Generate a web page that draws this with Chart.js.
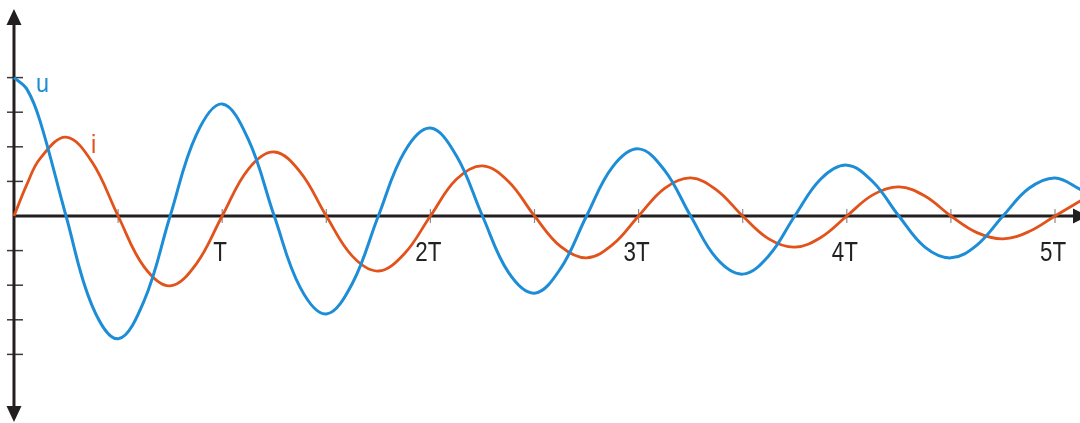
<!DOCTYPE html>
<html>
<head>
<meta charset="utf-8">
<script src="https://cdn.jsdelivr.net/npm/chart.js@4.4.1/dist/chart.umd.min.js"></script>
<style>
  html, body { margin: 0; padding: 0; background: #ffffff; }
  #wrap { width: 1080px; height: 423px; position: relative; }
</style>
</head>
<body>
<div id="wrap"><canvas id="osc-chart"></canvas></div>
<script>
// --- Data (time in periods T, values in axis units) ---
const timeValues = [
    0, 0.0625, 0.125, 0.25, 0.375, 0.5, 0.625, 0.75, 0.875,
    1, 1.125, 1.25, 1.375, 1.5, 1.625, 1.75, 1.875,
    2, 2.125, 2.25, 2.375, 2.5, 2.625, 2.75, 2.875,
    3, 3.125, 3.25, 3.375, 3.5, 3.625, 3.75, 3.875,
    4, 4.125, 4.25, 4.375, 4.5, 4.625, 4.75, 4.875,
    5, 5.125
];
const uValues = [
    4.00, 3.66, 2.75, 0, -2.59, -3.55, -2.45, 0, 2.34,
    3.24, 2.22, 0, -2.07, -2.83, -1.95, 0, 1.85,
    2.54, 1.74, 0, -1.63, -2.23, -1.52, 0, 1.42,
    1.94, 1.32, 0, -1.23, -1.68, -1.15, 0, 1.07,
    1.47, 0.99, 0, -0.90, -1.21, -0.84, 0, 0.80,
    1.10, 0.76
];
const iValues = [
    0, 0.92, 1.66, 2.28, 1.56, 0, -1.47, -2.02, -1.39,
    0, 1.35, 1.85, 1.27, 0, -1.16, -1.59, -1.09,
    0, 1.06, 1.45, 1.00, 0, -0.88, -1.21, -0.83,
    0, 0.80, 1.10, 0.75, 0, -0.66, -0.90, -0.62,
    0, 0.61, 0.84, 0.58, 0, -0.48, -0.66, -0.45,
    0, 0.45
];
const halfPeriodTicks = [0.5, 1, 1.5, 2, 2.5, 3, 3.5, 4, 4.5, 5];
const periodLabels = ['T', '2T', '3T', '4T', '5T'];
const periodLabelValues = [1, 2, 3, 4, 5];
const yTickValues = [-4, -3, -2, -1, 1, 2, 3, 4];

const BLUE = '#1c8dd6';
const ORANGE = '#e2521b';
const AXIS = '#231f20';

// --- Axes drawn by hand (arrows, ticks, labels) ---
const axesPlugin = {
    id: 'handAxes',
    beforeDatasetsDraw(chart) {
        const { ctx, scales: { x, y } } = chart;
        const x0 = x.getPixelForValue(0);
        const y0 = y.getPixelForValue(0);
        const right = chart.width;
        ctx.save();

        // small grey ticks on the time axis
        ctx.strokeStyle = '#8c8c8c';
        ctx.lineWidth = 1.2;
        halfPeriodTicks.forEach(v => {
            const px = x.getPixelForValue(v);
            ctx.beginPath();
            ctx.moveTo(px, y0 - 7);
            ctx.lineTo(px, y0 + 7);
            ctx.stroke();
        });

        // ticks on the vertical axis
        ctx.strokeStyle = '#3a3a3a';
        ctx.lineWidth = 1.5;
        yTickValues.forEach(v => {
            const py = y.getPixelForValue(v);
            ctx.beginPath();
            ctx.moveTo(x0 - 7, py);
            ctx.lineTo(x0 + 9, py);
            ctx.stroke();
        });

        // axis lines
        ctx.strokeStyle = AXIS;
        ctx.fillStyle = AXIS;
        ctx.lineWidth = 3;
        ctx.beginPath();
        ctx.moveTo(x0, 20);
        ctx.lineTo(x0, 410);
        ctx.moveTo(x0, y0);
        ctx.lineTo(right - 6, y0);
        ctx.stroke();

        // arrow heads
        ctx.beginPath();
        ctx.moveTo(x0, 9);
        ctx.lineTo(x0 - 7.5, 25);
        ctx.lineTo(x0 + 7.5, 25);
        ctx.closePath();
        ctx.fill();
        ctx.beginPath();
        ctx.moveTo(x0, 422);
        ctx.lineTo(x0 - 7.5, 406);
        ctx.lineTo(x0 + 7.5, 406);
        ctx.closePath();
        ctx.fill();
        ctx.beginPath();
        ctx.moveTo(right + 8, y0);
        ctx.lineTo(right - 7, y0 - 7.5);
        ctx.lineTo(right - 7, y0 + 7.5);
        ctx.closePath();
        ctx.fill();

        // period labels
        ctx.fillStyle = '#222222';
        ctx.font = '28px "Liberation Sans", Arial, sans-serif';
        ctx.textAlign = 'center';
        ctx.textBaseline = 'alphabetic';
        periodLabels.forEach((lbl, k) => {
            const px = x.getPixelForValue(periodLabelValues[k]) - 2;
            ctx.save();
            ctx.translate(px, y0 + 45);
            ctx.scale(0.8, 1);
            ctx.fillText(lbl, 0, 0);
            ctx.restore();
        });

        // curve names
        ctx.font = '26px "Liberation Sans", Arial, sans-serif';
        ctx.textAlign = 'left';
        ctx.save();
        ctx.fillStyle = BLUE;
        ctx.translate(x.getPixelForValue(0.106), y.getPixelForValue(3.58));
        ctx.scale(0.9, 1);
        ctx.fillText('u', 0, 0);
        ctx.restore();
        ctx.save();
        ctx.fillStyle = ORANGE;
        ctx.translate(x.getPixelForValue(0.37), y.getPixelForValue(1.82));
        ctx.scale(0.9, 1);
        ctx.fillText('i', 0, 0);
        ctx.restore();

        ctx.restore();
    }
};

const ctx = document.getElementById('osc-chart').getContext('2d');
new Chart(ctx, {
    type: 'line',
    data: {
        datasets: [
            {
                label: 'u',
                data: timeValues.map((t, k) => ({ x: t, y: uValues[k] })),
                borderColor: BLUE,
                borderWidth: 3,
                pointRadius: 0,
                tension: 0.38,
                fill: false
            },
            {
                label: 'i',
                data: timeValues.map((t, k) => ({ x: t, y: iValues[k] })),
                borderColor: ORANGE,
                borderWidth: 2.8,
                pointRadius: 0,
                tension: 0.38,
                fill: false
            }
        ]
    },
    options: {
        responsive: true,
        maintainAspectRatio: false,
        animation: false,
        layout: { padding: 0 },
        plugins: {
            legend: { display: false },
            tooltip: { enabled: false }
        },
        scales: {
            x: {
                type: 'linear',
                display: false,
                min: -0.0672,
                max: 5.12
            },
            y: {
                type: 'linear',
                display: false,
                min: -5.983,
                max: 6.243
            }
        }
    },
    plugins: [axesPlugin]
});
</script>
</body>
</html>
